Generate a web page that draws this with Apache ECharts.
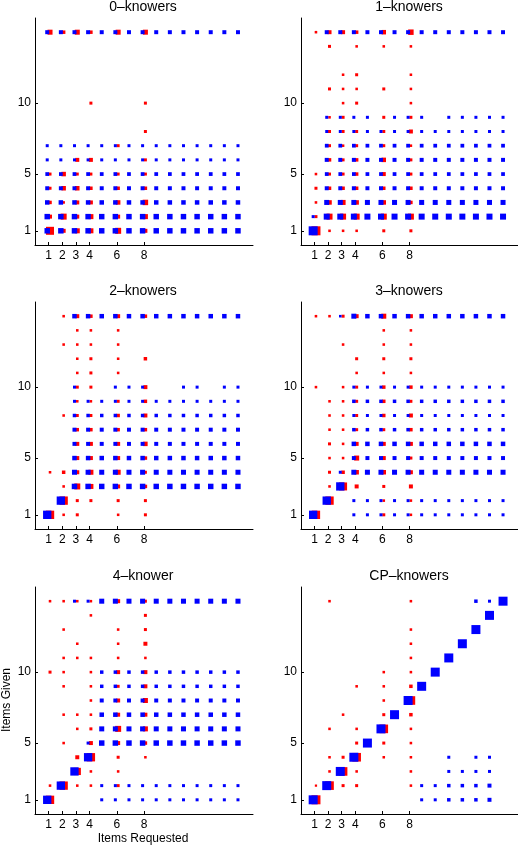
<!DOCTYPE html>
<html><head><meta charset="utf-8">
<script src="https://cdn.jsdelivr.net/npm/echarts@6/dist/echarts.min.js"></script>
<style>html,body{margin:0;padding:0;background:#fff}#c{width:518px;height:847px}</style>
</head><body><div id="c"></div>
<script>
// Panel titles
const titles = ['0–knowers', '1–knowers', '2–knowers', '3–knowers', '4–knower', 'CP–knowers'];
// x columns where data (red) exist; model (blue) columns 1..15
const redX = [1, 2, 3, 4, 6, 8];
const blueX = [1, 2, 3, 4, 5, 6, 7, 8, 9, 10, 11, 12, 13, 14, 15];
const xTicks = [1, 2, 3, 4, 6, 8];
const yTicks = [1, 5, 10];
const xLabelName = 'Items Requested';
const yLabelName = 'Items Given';

// Values = estimated percent of responses; rows are Items Given 1..15
// ---- Model predictions (blue), columns = Items Requested 1..15 ----
const blue0 = [
[28,28,28,28,28,28,28,28,28,28,28,28,28,28,28],
[28,28,28,28,28,28,28,28,28,28,28,28,28,28,28],
[16,16,16,16,16,16,16,16,16,16,16,16,16,16,16],
[11,11,11,11,11,11,11,11,11,11,11,11,11,11,11],
[9,9,9,9,9,9,9,9,9,9,9,9,9,9,9],
[4,4,4,4,4,4,4,4,4,4,4,4,4,4,4],
[4,4,4,4,4,4,4,4,4,4,4,4,4,4,4],
[0,0,0,0,0,0,0,0,0,0,0,0,0,0,0],
[0,0,0,0,0,0,0,0,0,0,0,0,0,0,0],
[0,0,0,0,0,0,0,0,0,0,0,0,0,0,0],
[0,0,0,0,0,0,0,0,0,0,0,0,0,0,0],
[0,0,0,0,0,0,0,0,0,0,0,0,0,0,0],
[0,0,0,0,0,0,0,0,0,0,0,0,0,0,0],
[0,0,0,0,0,0,0,0,0,0,0,0,0,0,0],
[11,11,11,11,11,11,11,11,11,11,11,11,11,11,11]
];
const blue1 = [
[100,0,0,0,0,0,0,0,0,0,0,0,0,0,0],
[4,36,36,36,36,36,36,36,36,36,36,36,36,36,36],
[0,22,22,22,22,22,22,22,22,22,22,22,22,22,22],
[0,11,11,11,11,11,11,11,11,11,11,11,11,11,11],
[0,9,9,9,9,9,9,9,9,9,9,9,9,9,9],
[0,11,11,11,11,11,11,11,11,11,11,11,11,11,11],
[0,9,9,9,9,9,9,9,9,9,9,9,9,9,9],
[0,4,4,4,4,4,4,4,4,4,4,4,4,4,4],
[0,4,4,4,4,0,4,4,4,0,4,4,4,4,4],
[0,0,0,0,0,0,0,0,0,0,0,0,0,0,0],
[0,0,0,0,0,0,0,0,0,0,0,0,0,0,0],
[0,0,0,0,0,0,0,0,0,0,0,0,0,0,0],
[0,0,0,0,0,0,0,0,0,0,0,0,0,0,0],
[0,0,0,0,0,0,0,0,0,0,0,0,0,0,0],
[0,11,11,11,11,11,11,11,11,11,11,11,11,11,11]
];
const blue2 = [
[83,0,0,0,0,0,0,0,0,0,0,0,0,0,0],
[0,83,0,0,0,0,0,0,0,0,0,0,0,0,0],
[0,0,28,28,28,28,28,28,28,28,28,28,28,28,28],
[0,0,22,22,22,22,22,22,22,22,22,22,22,22,22],
[0,0,16,16,16,16,16,16,16,16,16,16,16,16,16],
[0,0,11,11,11,11,11,11,11,11,11,11,11,11,11],
[0,0,11,11,11,11,11,11,11,11,11,11,11,11,11],
[0,0,7,7,7,7,7,7,7,7,7,7,7,7,7],
[0,0,4,4,4,4,4,4,4,4,4,4,4,4,4],
[0,0,4,0,0,4,4,4,0,0,4,4,0,4,4],
[0,0,0,0,0,0,0,0,0,0,0,0,0,0,0],
[0,0,0,0,0,0,0,0,0,0,0,0,0,0,0],
[0,0,0,0,0,0,0,0,0,0,0,0,0,0,0],
[0,0,0,0,0,0,0,0,0,0,0,0,0,0,0],
[0,0,16,16,16,16,16,16,16,16,16,16,16,16,16]
];
const blue3 = [
[83,0,0,4,4,4,4,4,4,4,4,4,4,4,4],
[0,83,0,4,4,4,4,4,4,4,4,4,4,4,4],
[0,0,83,0,0,0,0,0,0,0,0,0,0,0,0],
[0,0,4,22,22,22,22,22,22,22,22,22,22,22,22],
[0,0,0,11,11,11,11,11,11,11,11,11,11,11,11],
[0,0,0,16,16,16,16,16,16,16,16,16,16,16,16],
[0,0,0,7,7,7,7,7,7,7,7,7,7,7,7],
[0,0,0,4,4,4,4,4,4,4,4,4,4,4,4],
[0,0,0,7,7,7,7,7,7,7,7,7,7,7,7],
[0,0,0,4,4,4,4,4,4,4,4,4,4,4,4],
[0,0,0,0,0,0,0,0,0,0,0,0,0,0,0],
[0,0,0,0,0,0,0,0,0,0,0,0,0,0,0],
[0,0,0,0,0,0,0,0,0,0,0,0,0,0,0],
[0,0,0,0,0,0,0,0,0,0,0,0,0,0,0],
[0,0,2,22,16,16,16,16,16,16,16,16,16,16,16]
];
const blue4 = [
[83,0,0,0,4,4,4,4,4,4,4,4,4,4,4],
[0,83,0,0,4,4,4,4,4,4,4,4,4,4,4],
[0,0,83,0,0,0,0,0,0,0,0,0,0,0,0],
[0,0,0,83,0,0,0,0,0,0,0,0,0,0,0],
[0,0,0,4,28,28,28,28,28,28,28,28,28,28,28],
[0,0,0,0,22,22,22,22,22,22,22,22,22,22,22],
[0,0,0,0,16,16,16,16,16,16,16,16,16,16,16],
[0,0,0,0,11,11,11,11,11,11,11,11,11,11,11],
[0,0,0,0,7,7,7,7,7,7,7,7,7,7,7],
[0,0,0,0,7,7,7,7,7,7,7,7,7,7,7],
[0,0,0,0,0,0,0,0,0,0,0,0,0,0,0],
[0,0,0,0,0,0,0,0,0,0,0,0,0,0,0],
[0,0,0,0,0,0,0,0,0,0,0,0,0,0,0],
[0,0,0,0,0,0,0,0,0,0,0,0,0,0,0],
[0,0,4,4,22,22,22,22,22,22,22,22,22,22,22]
];
const blue5 = [
[100,0,0,0,0,0,0,0,4,4,7,7,7,11,0],
[0,100,0,0,0,0,0,0,4,4,7,7,7,11,0],
[0,0,100,0,0,0,0,0,0,0,4,4,4,4,0],
[0,0,0,100,0,0,0,0,0,0,4,0,4,4,0],
[0,0,0,0,100,0,0,0,0,0,0,0,0,0,0],
[0,0,0,0,0,100,0,0,0,0,0,0,0,0,0],
[0,0,0,0,0,0,100,0,0,0,0,0,0,0,0],
[0,0,0,0,0,0,0,100,0,0,0,0,0,0,0],
[0,0,0,0,0,0,0,0,100,0,0,0,0,0,0],
[0,0,0,0,0,0,0,0,0,100,0,0,0,0,0],
[0,0,0,0,0,0,0,0,0,0,100,0,0,0,0],
[0,0,0,0,0,0,0,0,0,0,0,100,0,0,0],
[0,0,0,0,0,0,0,0,0,0,0,0,100,0,0],
[0,0,0,0,0,0,0,0,0,0,0,0,0,100,0],
[0,0,0,0,0,0,0,0,0,0,0,0,7,4,100]
];

// ---- Children's data (red), columns = Items Requested 1,2,3,4,6,8 ----
const red0 = [
[75,11,22,22,36,11],
[11,36,11,22,11,22],
[7,2,11,11,16,28],
[4,16,16,7,7,7],
[4,16,4,4,4,4],
[0,0,11,11,0,4],
[0,0,0,0,4,0],
[0,0,0,0,0,4],
[0,0,0,0,0,0],
[0,0,0,4,0,4],
[0,0,0,0,0,0],
[0,0,0,0,0,0],
[0,0,0,0,0,0],
[0,0,0,0,0,0],
[22,7,22,7,22,22]
];
const red1 = [
[100,2,2,2,4,4],
[4,36,36,36,36,36],
[2,16,22,16,16,7],
[4,7,7,7,7,7],
[2,4,4,7,11,4],
[0,7,4,7,16,4],
[0,4,2,4,4,2],
[0,4,4,4,4,11],
[0,2,4,0,4,4],
[0,0,2,4,0,2],
[0,4,2,2,4,2],
[0,0,2,4,0,2],
[0,0,0,0,0,0],
[0,4,0,2,2,2],
[2,11,11,7,16,28]
];
const red2 = [
[83,2,4,0,2,4],
[0,83,4,4,4,4],
[0,2,36,22,11,7],
[2,7,11,22,22,4],
[0,0,11,11,11,7],
[0,0,11,11,11,16],
[0,0,7,7,7,7],
[0,2,4,4,7,11],
[0,0,2,2,4,7],
[0,0,4,4,0,11],
[0,0,2,4,2,0],
[0,0,2,4,2,7],
[0,2,2,2,2,0],
[0,0,2,2,2,0],
[0,2,11,7,11,7]
];
const red3 = [
[83,0,0,0,4,2],
[0,83,0,0,2,2],
[0,2,75,11,4,11],
[0,4,7,16,16,11],
[0,2,2,22,11,4],
[0,4,2,11,11,11],
[0,2,2,4,4,7],
[0,2,2,4,7,11],
[0,2,2,4,7,4],
[2,0,2,4,7,7],
[0,0,0,2,2,2],
[0,0,0,4,4,4],
[0,0,2,0,2,2],
[0,0,0,0,2,2],
[2,2,4,11,22,11]
];
const red4 = [
[83,0,0,0,0,0],
[2,83,2,2,4,0],
[0,0,58,2,2,0],
[0,0,11,83,4,2],
[0,2,0,11,11,7],
[0,0,2,4,36,22],
[0,2,2,2,11,11],
[0,0,0,2,11,22],
[0,2,0,2,4,11],
[4,2,0,2,11,11],
[0,2,2,2,2,2],
[0,0,2,0,2,11],
[0,2,0,0,2,4],
[0,0,0,2,0,4],
[2,2,2,2,11,4]
];
const red5 = [
[100,0,0,0,0,0],
[1,90,4,4,0,2],
[0,2,90,2,0,2],
[0,2,4,90,2,2],
[0,0,0,4,4,2],
[0,2,0,2,90,2],
[0,0,2,0,4,7],
[0,0,0,0,2,90],
[0,0,0,2,2,7],
[0,0,0,0,2,2],
[0,0,0,0,0,2],
[0,0,0,0,0,2],
[0,0,0,0,0,2],
[0,0,0,0,0,0],
[0,2,0,0,0,2]
];

const blues = [blue0, blue1, blue2, blue3, blue4, blue5];
const reds = [red0, red1, red2, red3, red4, red5];

function toPoints(mat, xs) {
  const pts = [];
  mat.forEach((row, yi) => row.forEach((v, xi) => { if (v > 0) pts.push([xs[xi], yi + 1, v]); }));
  return pts;
}
const sizeOf = v => 1.5 + 0.75 * Math.sqrt(v[2]);

const FONT = '"Liberation Sans", Arial, Helvetica, sans-serif';
const gridLeft = [35, 301], gridWidth = [218, 217], gridTop = [18, 302, 587], gridH = 227;
const grids = [], xAxes = [], yAxes = [], series = [], graphics = [];
for (let i = 0; i < 6; i++) {
  const c = i % 2, r = Math.floor(i / 2);
  grids.push({ left: gridLeft[c], top: gridTop[r], width: gridWidth[c], height: gridH, containLabel: false, outerBoundsMode: 'none' });
  const axisCommon = {
    gridIndex: i, type: 'value', min: 0, max: 16, interval: 1,
    axisLine: { show: true, lineStyle: { color: '#000', width: 1 } },
    splitLine: { show: false }
  };
  xAxes.push(Object.assign({}, axisCommon, {
    axisTick: { show: true, inside: true, length: 3, customValues: xTicks, lineStyle: { color: '#000' } },
    axisLabel: { customValues: xTicks, color: '#000', fontSize: 12, margin: 5, fontFamily: FONT }
  }));
  yAxes.push(Object.assign({}, axisCommon, {
    axisTick: { show: true, inside: true, length: 3, customValues: yTicks, lineStyle: { color: '#000' } },
    axisLabel: { customValues: yTicks, color: '#000', fontSize: 12, margin: 4, fontFamily: FONT }
  }));
  series.push({
    type: 'scatter', xAxisIndex: i, yAxisIndex: i, symbol: 'rect',
    data: toPoints(reds[i], redX), symbolSize: sizeOf, symbolOffset: [1.4, 0],
    itemStyle: { color: '#ff0000', opacity: 1 }, silent: true, z: 2
  });
  series.push({
    type: 'scatter', xAxisIndex: i, yAxisIndex: i, symbol: 'rect',
    data: toPoints(blues[i], blueX), symbolSize: sizeOf, symbolOffset: [-1.4, 0],
    itemStyle: { color: '#0000ff', opacity: 1 }, silent: true, z: 3
  });
  graphics.push({
    type: 'text', x: [143, 409][c], y: [7, 291, 576][r],
    style: { text: titles[i], align: 'center', verticalAlign: 'middle', fontSize: 14, fontFamily: FONT, fill: '#000' }
  });
}
// axis titles on the bottom-left panel
graphics.push({
  type: 'text', x: 143, y: 839,
  style: { text: xLabelName, align: 'center', verticalAlign: 'middle', fontSize: 12, fontFamily: FONT, fill: '#000' }
});
graphics.push({
  type: 'text', x: 7, y: 700, rotation: Math.PI / 2,
  style: { text: yLabelName, align: 'center', verticalAlign: 'middle', fontSize: 12, fontFamily: FONT, fill: '#000' }
});

const chart = echarts.init(document.getElementById('c'), null, { renderer: 'canvas' });
chart.setOption({
  animation: false,
  backgroundColor: '#fff',
  grid: grids, xAxis: xAxes, yAxis: yAxes, series: series, graphic: graphics
});
</script></body></html>
